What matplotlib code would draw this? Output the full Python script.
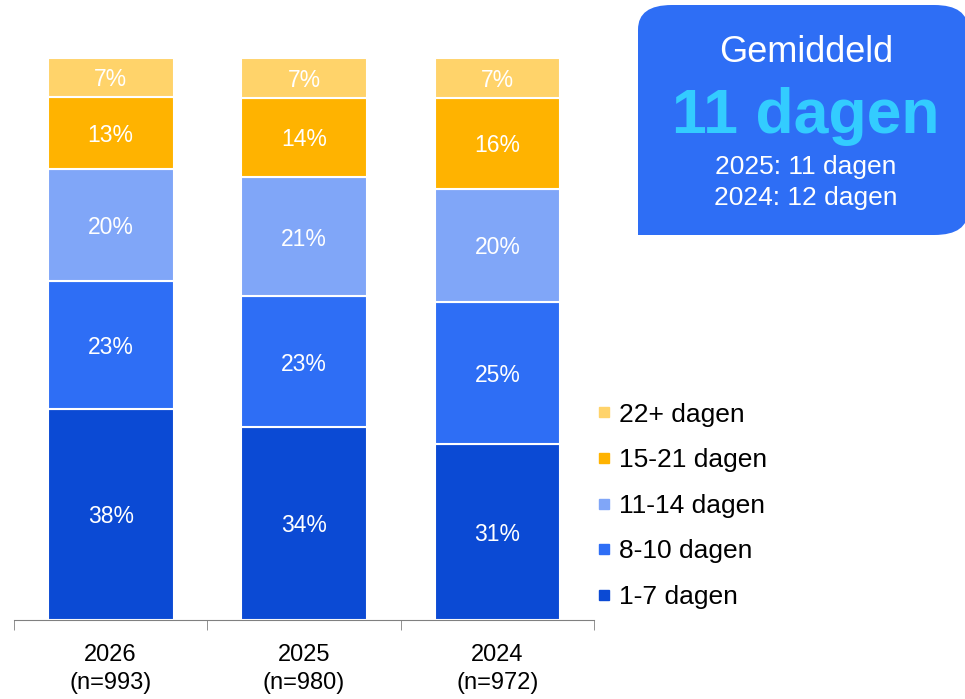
import matplotlib.pyplot as plt
import numpy as np
from matplotlib.lines import Line2D
from matplotlib.patches import FancyBboxPatch, Rectangle

plt.rcParams['font.family'] = ['Liberation Sans', 'DejaVu Sans']

years = ['2026\n(n=993)', '2025\n(n=980)', '2024\n(n=972)']
categories = ['1-7 dagen', '8-10 dagen', '11-14 dagen', '15-21 dagen', '22+ dagen']
colours = ['#0b4ad4', '#2e6ef5', '#80a6f8', '#ffb300', '#ffd36a']

# percentage per category, one list per category (2026, 2025, 2024)
d_1_7 = [38, 34, 31]
d_8_10 = [23, 23, 25]
d_11_14 = [20, 21, 20]
d_15_21 = [13, 14, 16]
d_22 = [7, 7, 7]

box_title = 'Gemiddeld'
box_main = '11 dagen'
box_lines = ['2025: 11 dagen', '2024: 12 dagen']

values = np.array([d_1_7, d_8_10, d_11_14, d_15_21, d_22], dtype=float)
shares = values / values.sum(axis=0) * 100

fig = plt.figure(figsize=(9.65, 6.99), dpi=100)
ax = fig.add_axes([14 / 965, 1 - 620 / 699, 580 / 965, (620 - 58) / 699])

x = np.arange(len(years))
bottom = np.zeros(len(years))
for i in range(len(categories)):
    ax.bar(x, shares[i], 0.65, bottom=bottom, color=colours[i],
           edgecolor='white', linewidth=1.5, label=categories[i])
    for j in range(len(years)):
        ax.text(x[j], bottom[j] + shares[i][j] / 2, '{:.0f}%'.format(values[i][j]),
                ha='center', va='center_baseline', color='white', fontsize=16.5)
    bottom += shares[i]

ax.set_xlim(-0.5, 2.5)
ax.set_ylim(0, 100)
ax.set_yticks([])
for s in ['left', 'right', 'top']:
    ax.spines[s].set_visible(False)
ax.spines['bottom'].set_color('#808080')
ax.set_xticks(x)
ax.set_xticklabels(years, fontsize=17, linespacing=1.4)
ax.tick_params(axis='x', which='major', length=0, pad=17)
ax.set_xticks([-0.5, 0.5, 1.5, 2.5], minor=True)
ax.tick_params(axis='x', which='minor', length=7, color='#808080')

handles = [Line2D([], [], marker='s', linestyle='', markersize=7,
                  color=colours[i]) for i in range(len(categories))][::-1]
fig.legend(handles, categories[::-1], loc='upper left',
           bbox_to_anchor=(583 / 965, 1 - 392 / 699), frameon=False,
           fontsize=19, labelspacing=0.82, handletextpad=0.15, handlelength=0.8,
           borderaxespad=0)

box = FancyBboxPatch((638 / 965, 1 - 235 / 699), 330 / 965, 230 / 699,
                     boxstyle='round,pad=0,rounding_size=0.035',
                     transform=fig.transFigure, facecolor='#2e6ef5',
                     edgecolor='none', clip_on=False)
fig.patches.append(box)
fig.patches.append(Rectangle((638 / 965, 1 - 235 / 699), 40 / 965, 40 / 699,
                             transform=fig.transFigure, facecolor='#2e6ef5',
                             edgecolor='none'))
fig.text(806 / 965, 1 - 52 / 699, box_title, ha='center', va='center',
         color='white', fontsize=26)
fig.text(806 / 965, 1 - 117 / 699, box_main, ha='center', va='center',
         color='#33ccff', fontsize=45, fontweight='bold')
fig.text(806 / 965, 1 - 167 / 699, box_lines[0], ha='center', va='center',
         color='white', fontsize=19)
fig.text(806 / 965, 1 - 198 / 699, box_lines[1], ha='center', va='center',
         color='white', fontsize=19)

fig.savefig('out.png')
